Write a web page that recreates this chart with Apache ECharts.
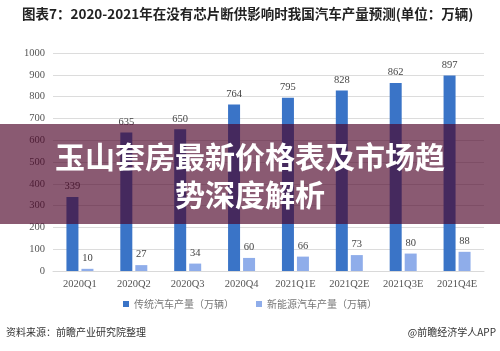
<!DOCTYPE html>
<html><head><meta charset="utf-8">
<script src="https://cdn.jsdelivr.net/npm/echarts@6/dist/echarts.min.js"></script>
<style>html,body{margin:0;padding:0;background:#fff}#c{width:500px;height:351px}</style>
</head><body><div id="c"></div>
<script>
const categories = ['2020Q1','2020Q2','2020Q3','2020Q4','2021Q1E','2021Q2E','2021Q3E','2021Q4E'];
const traditional = [339, 635, 650, 764, 795, 828, 862, 897];
const newEnergy = [10, 27, 34, 60, 66, 73, 80, 88];
const seriesNames = ['传统汽车产量（万辆）', '新能源汽车产量（万辆）'];
const yTicks = [0, 1000, 100];

const chart = echarts.init(document.getElementById('c'));
const serif = '"Liberation Serif", "DejaVu Serif", serif';
const cjk = '"Noto Sans CJK SC", sans-serif';
chart.setOption({
  animation: false,
  grid: { left: 53, right: 16, top: 53, bottom: 80 },
  legend: {
    data: seriesNames, bottom: 37, left: 'center', itemWidth: 6, itemHeight: 6, itemGap: 22,
    icon: 'rect', textStyle: { fontSize: 10, color: '#777', fontFamily: cjk }
  },
  xAxis: {
    type: 'category', data: categories,
    axisLine: { lineStyle: { color: '#d9d9d9' } }, axisTick: { show: false },
    axisLabel: { interval: 0, fontFamily: serif, fontSize: 10.5, color: '#555', margin: 8 }
  },
  yAxis: {
    type: 'value', min: yTicks[0], max: yTicks[1], interval: yTicks[2],
    axisLine: { show: false }, axisTick: { show: false },
    axisLabel: { fontFamily: serif, fontSize: 10.5, color: '#555', margin: 8, formatter: v => String(v) },
    splitLine: { lineStyle: { color: '#dcdcdc' } }
  },
  series: [
    { name: seriesNames[0], type: 'bar', data: traditional, barWidth: 12, barGap: '25%',
      itemStyle: { color: '#3a74c7' },
      label: { show: true, position: 'top', distance: 5, fontFamily: serif, fontSize: 10.5, color: '#444' } },
    { name: seriesNames[1], type: 'bar', data: newEnergy, barWidth: 12,
      itemStyle: { color: '#8fadea' },
      label: { show: true, position: 'top', distance: 5, fontFamily: serif, fontSize: 10.5, color: '#444' } }
  ],
  graphic: [
    { type: 'text', left: 22, top: 7, style: { text: '图表7：2020-2021年在没有芯片断供影响时我国汽车产量预测(单位：万辆)', font: 'bold 13.5px ' + cjk, fill: '#222' } },
    { type: 'rect', shape: { x: 0, y: 124, width: 500, height: 100 }, style: { fill: 'rgba(75,2,38,0.65)' }, z: 100 },
    { type: 'text', x: 250, y: 157, z: 101, style: { text: '玉山套房最新价格表及市场趋', font: 'bold 30px ' + cjk, fill: '#fff', align: 'center', verticalAlign: 'middle' } },
    { type: 'text', x: 250, y: 195, z: 101, style: { text: '势深度解析', font: 'bold 30px ' + cjk, fill: '#fff', align: 'center', verticalAlign: 'middle' } },
    { type: 'text', left: 6, top: 327, style: { text: '资料来源：前瞻产业研究院整理', font: '10px ' + cjk, fill: '#333' } },
    { type: 'text', right: 4, top: 327, style: { text: '@前瞻经济学人APP', font: '10px ' + cjk, fill: '#333' } }
  ]
});
</script></body></html>
